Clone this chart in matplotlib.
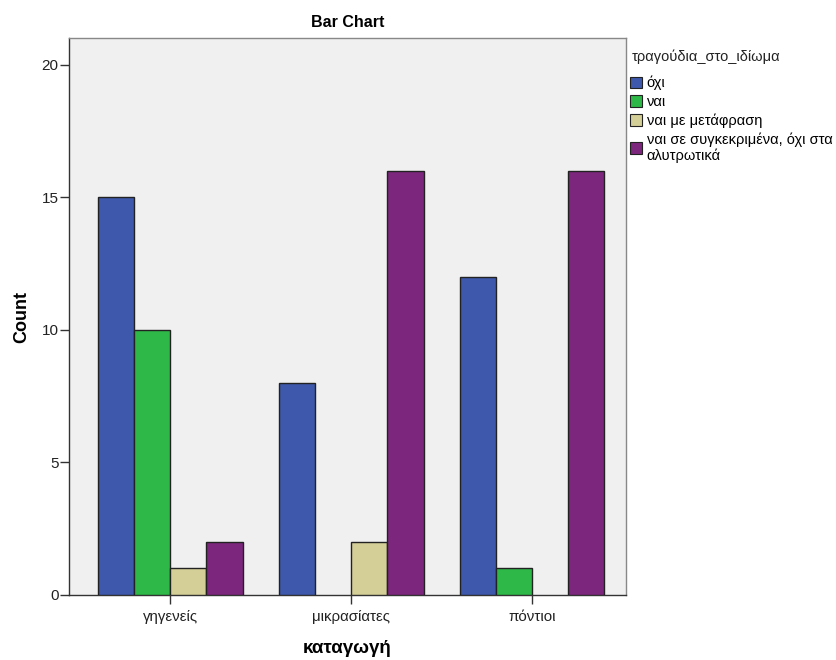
import matplotlib
matplotlib.use("Agg")
import matplotlib.pyplot as plt
import numpy as np
from matplotlib.patches import Patch

plt.rcParams['font.family'] = ['Liberation Sans', 'DejaVu Sans']

categories = ["γηγενείς", "μικρασίατες", "πόντιοι"]
series_names = ["όχι", "ναι", "ναι με μετάφραση", "ναι σε συγκεκριμένα, όχι στα\nαλυτρωτικά"]
legend_title = "τραγούδια_στο_ιδίωμα"
values_oxi = [15, 8, 12]
values_nai = [10, 0, 1]
values_metafrasi = [1, 2, 0]
values_syg = [2, 16, 16]
colors = ["#3E58AC", "#2EB848", "#D4CE97", "#7D267D"]

series = [values_oxi, values_nai, values_metafrasi, values_syg]

W, H = 836, 660
fig = plt.figure(figsize=(W / 100, H / 100), dpi=100)
ax = fig.add_axes([0.0825, 0.0985, 0.749 - 0.0825, 0.9424 - 0.0985])
ax.set_facecolor("#F0F0F0")

x = np.arange(len(categories))
w = 0.2
offsets = [-1.5 * w, -0.5 * w, 0.5 * w, 1.5 * w]
for vals, off, c in zip(series, offsets, colors):
    v = np.array(vals, dtype=float)
    mask = v > 0
    ax.bar(x[mask] + off, v[mask], width=w, color=c, edgecolor="#222222", linewidth=1.0, zorder=3)

ax.set_xlim(-0.56, 2.52)
ax.set_ylim(0, 21)
ax.set_yticks([0, 5, 10, 15, 20])
ax.set_xticks(x)
ax.set_xticklabels(categories, fontsize=10.8, color='#222222')
ax.tick_params(axis='y', labelsize=11, length=6.5, width=1, direction='out', color='#333333', pad=1, labelcolor='#222222')
ax.tick_params(axis='x', length=6.5, width=1, direction='out', color='#333333', pad=4)

for s in ['left', 'bottom']:
    ax.spines[s].set_color('#333333')
    ax.spines[s].set_linewidth(1.0)
for s in ['top', 'right']:
    ax.spines[s].set_color('#888888')
    ax.spines[s].set_linewidth(1.0)

ax.set_title("Bar Chart", fontsize=11.5, fontweight='bold', pad=8)
ax.set_ylabel("Count", fontsize=13, fontweight='bold', labelpad=8)
ax.set_xlabel("καταγωγή", fontsize=13.5, fontweight='bold', labelpad=12)

fig.text(632 / W, 1 - 57 / H, legend_title, fontsize=10.5, va='center', ha='left', color='#222222')

handles = [Patch(facecolor=c, edgecolor="#222222", linewidth=0.8) for c in colors]
leg = fig.legend(handles, series_names,
                 loc='upper left', bbox_to_anchor=(630 / W, 1 - 76 / H),
                 frameon=False, fontsize=10.5,
                 handlelength=0.85, handleheight=0.85, handletextpad=0.3,
                 labelspacing=0.3, borderaxespad=0.0, borderpad=0.0)

fig.savefig("out.png", dpi=100)
